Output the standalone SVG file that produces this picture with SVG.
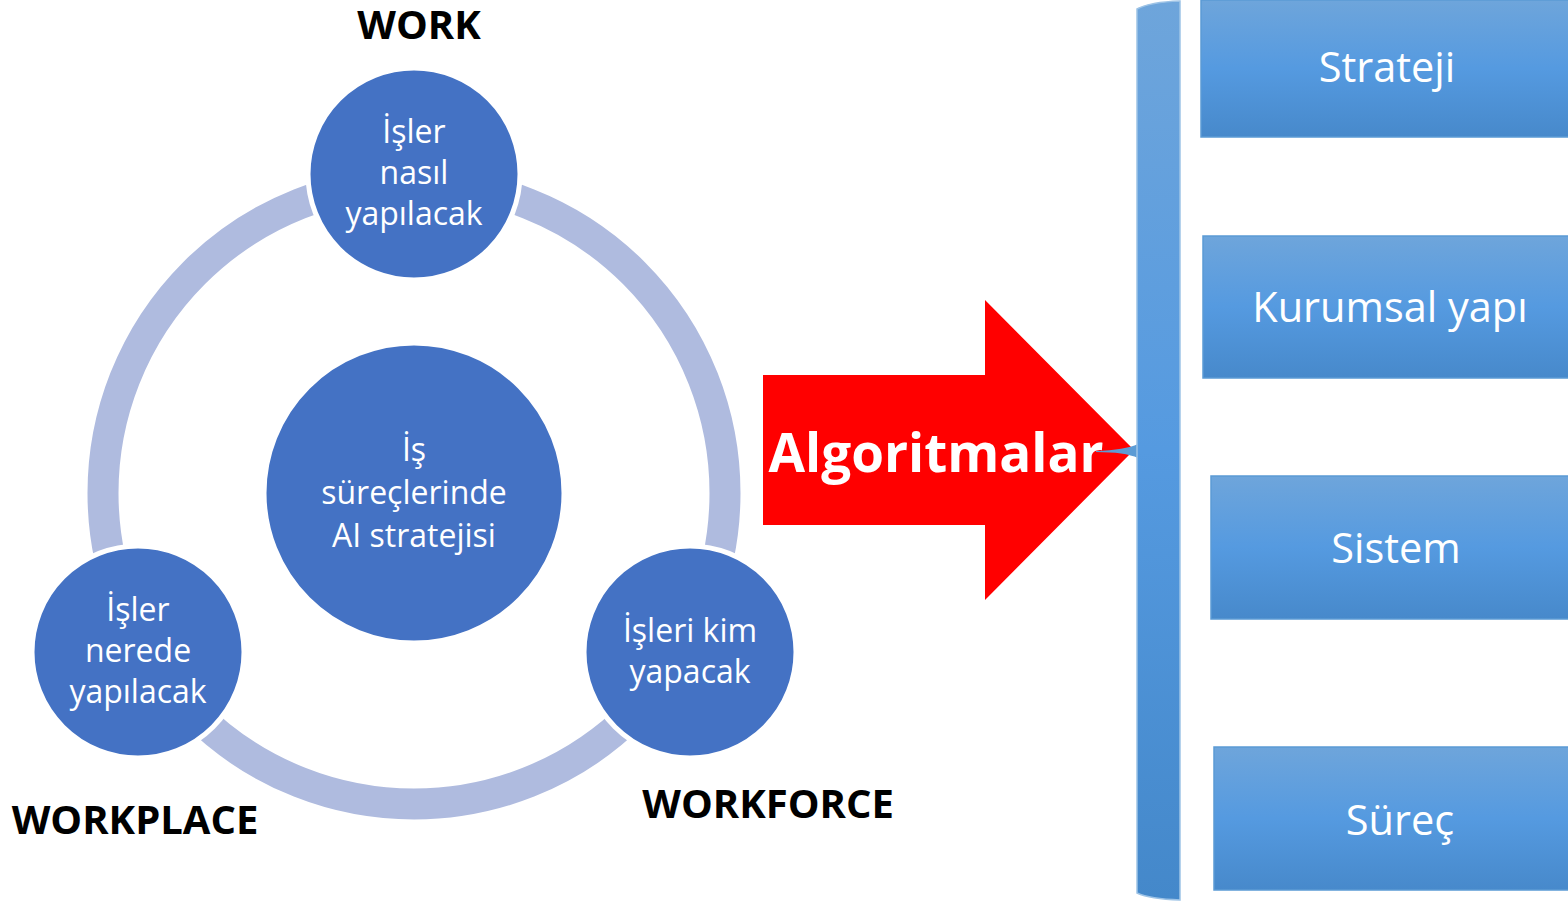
<svg xmlns="http://www.w3.org/2000/svg" width="1568" height="901" viewBox="0 0 1568 901">
<style>
.c{fill:#4472C4;stroke:#fff;stroke-width:5}
.t{font-family:"Open Sans","Noto Sans",sans-serif;fill:#fff;text-anchor:middle;font-size:32px}
.h{font-family:"Open Sans","Noto Sans",sans-serif;font-weight:bold;fill:#000;text-anchor:middle;font-size:40px}
.bt{font-family:"Open Sans","Noto Sans",sans-serif;fill:#fff;text-anchor:middle;font-size:41.5px}
.box{fill:url(#bg);stroke:#5B9BD5;stroke-width:1.5}
</style>
<defs>
<linearGradient id="bg" x1="0" y1="0" x2="0" y2="1">
<stop offset="0" stop-color="#6EA5DB"/>
<stop offset="0.5" stop-color="#559AE0"/>
<stop offset="1" stop-color="#4789CB"/>
</linearGradient>
<linearGradient id="barg" x1="0" y1="0" x2="0" y2="1">
<stop offset="0" stop-color="#6EA5DB"/>
<stop offset="0.5" stop-color="#559AE0"/>
<stop offset="1" stop-color="#4488CA"/>
</linearGradient>
</defs>
<g id="connectors">
<circle cx="414" cy="493" r="311" fill="none" stroke="#AFBBDF" stroke-width="31"/>
</g>
<g id="node-work">
<circle class="c" cx="414" cy="174" r="106"/>
<text class="t" x="414" y="143">İşler</text>
<text class="t" x="414" y="184">nasıl</text>
<text class="t" x="414" y="225">yapılacak</text>
</g>
<g id="node-center">
<circle class="c" cx="414" cy="493" r="150"/>
<text class="t" x="414" y="461" font-size="35">İş</text>
<text class="t" x="414" y="504" font-size="35">süreçlerinde</text>
<text class="t" x="414" y="547" font-size="35">AI stratejisi</text>
</g>
<g id="node-workplace">
<circle class="c" cx="138" cy="652" r="106"/>
<text class="t" x="138" y="621">İşler</text>
<text class="t" x="138" y="662">nerede</text>
<text class="t" x="138" y="703">yapılacak</text>
</g>
<g id="node-workforce">
<circle class="c" cx="690" cy="652" r="106"/>
<text class="t" x="690" y="642">İşleri kim</text>
<text class="t" x="690" y="683">yapacak</text>
</g>
<g id="labels">
<text class="h" x="419" y="39">WORK</text>
<text class="h" x="135" y="834">WORKPLACE</text>
<text class="h" x="768" y="818">WORKFORCE</text>
</g>
<g id="node-arrow">
<polygon points="763,375 985,375 985,300 1134,450 985,600 985,525 763,525" fill="#FF0000"/>
<text x="936" y="472" font-family="Open Sans,Noto Sans,sans-serif" font-weight="bold" font-size="53" fill="#fff" text-anchor="middle">Algoritmalar</text>
</g>
<g id="node-bar">
<path d="M1096,451 Q1125,450 1138,444 L1138,458 Q1125,452 1096,452 Z" fill="#5B9BD5"/>
<path d="M1137,9 Q1150,2 1180,1 L1180,900 Q1150,899 1137,893 Z" fill="url(#barg)" stroke="#9DC3E6" stroke-width="1.5"/>
</g>
<g id="node-strateji">
<rect class="box" x="1201" y="0" width="368" height="137"/>
<text class="bt" x="1387" y="82">Strateji</text>
</g>
<g id="node-kurumsal">
<rect class="box" x="1203" y="236" width="366" height="142"/>
<text class="bt" x="1390" y="322">Kurumsal yapı</text>
</g>
<g id="node-sistem">
<rect class="box" x="1211" y="476" width="358" height="143"/>
<text class="bt" x="1396" y="563">Sistem</text>
</g>
<g id="node-surec">
<rect class="box" x="1214" y="747" width="355" height="143"/>
<text class="bt" x="1400" y="835">Süreç</text>
</g>
</svg>
